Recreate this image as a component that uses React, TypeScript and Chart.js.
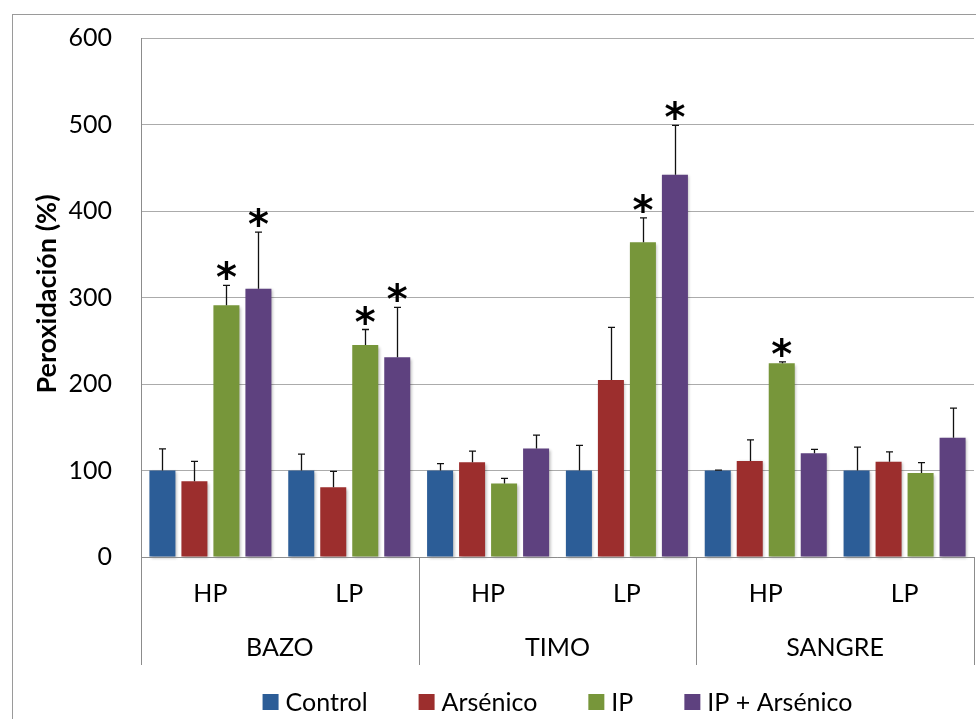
import React, { useEffect, useRef } from "react";
import { Chart, registerables } from "chart.js";

Chart.register(...registerables);

const groups = ["HP", "LP", "HP", "LP", "HP", "LP"];
const tissues = ["BAZO", "TIMO", "SANGRE"];
const seriesNames = ["Control", "Arsénico", "IP", "IP + Arsénico"];
const seriesColors = ["#2C5D97", "#9C2E2D", "#77963A", "#5E417F"];

const controlVals = [100, 100, 100, 100, 100, 100];
const arsenicoVals = [87.5, 80.5, 109.5, 204.5, 111, 110];
const ipVals = [291, 245, 85, 364, 224, 97];
const ipArsVals = [310, 231, 125.5, 442, 120, 138];

const controlErr = [25, 19, 8, 29, 0.5, 27];
const arsenicoErr = [23, 18.5, 13, 61, 24.5, 11.5];
const ipErr = [23, 18, 6, 28, 1.5, 12];
const ipArsErr = [65.5, 57.5, 15.5, 57, 4.5, 34];

const controlSig = [false, false, false, false, false, false];
const arsenicoSig = [false, false, false, false, false, false];
const ipSig = [true, true, false, true, true, false];
const ipArsSig = [true, true, false, true, false, false];

const yTicks = [0, 100, 200, 300, 400, 500, 600];
const yTitle = "Peroxidación (%)";

const FONT = "Lato, 'Open Sans', sans-serif";

export default function App() {
  const ref = useRef<HTMLCanvasElement | null>(null);

  useEffect(() => {
    if (!ref.current) return;
    const values = [controlVals, arsenicoVals, ipVals, ipArsVals];
    const errs = [controlErr, arsenicoErr, ipErr, ipArsErr];
    const sigs = [controlSig, arsenicoSig, ipSig, ipArsSig];

    const deco = {
      id: "deco",
      beforeDraw(chart: any) {
        const ctx = chart.ctx;
        ctx.save();
        ctx.fillStyle = "#ffffff";
        ctx.fillRect(0, 0, chart.width, chart.height);
        ctx.strokeStyle = "#9a9a9a";
        ctx.lineWidth = 1;
        ctx.strokeRect(12.5, 14.5, 2000, 2000);
        ctx.restore();
      },
      beforeDatasetsDraw(chart: any) {
        const ctx = chart.ctx;
        ctx.save();
        ctx.shadowColor = "rgba(0,0,0,0.28)";
        ctx.shadowBlur = 3;
        ctx.shadowOffsetX = 1.5;
        ctx.shadowOffsetY = 1.5;
      },
      afterDatasetsDraw(chart: any) {
        const ctx = chart.ctx;
        ctx.restore();
        const y = chart.scales.y;
        ctx.save();
        ctx.strokeStyle = "#111111";
        ctx.lineWidth = 1.3;
        for (let d = 0; d < values.length; d++) {
          const meta = chart.getDatasetMeta(d);
          meta.data.forEach((bar: any, i: number) => {
            const v = values[d][i];
            const e = errs[d][i];
            const x = Math.round(bar.x) + 0.5;
            const y0 = y.getPixelForValue(v);
            const y1 = y.getPixelForValue(v + e);
            ctx.beginPath();
            ctx.moveTo(x, y0);
            ctx.lineTo(x, y1);
            ctx.moveTo(x - 3.5, y1);
            ctx.lineTo(x + 3.5, y1);
            ctx.stroke();
            if (sigs[d][i]) {
              ctx.fillStyle = "#000";
              ctx.font = "bold 40px 'DejaVu Sans', sans-serif";
              ctx.textAlign = "center";
              ctx.textBaseline = "alphabetic";
              const m = ctx.measureText("*");
              const cy = y1 - 15;
              const asc = m.actualBoundingBoxAscent;
              const desc = m.actualBoundingBoxDescent;
              const base = cy + (asc - desc) / 2;
              ctx.fillText("*", bar.x, base);
            }
          });
        }
        ctx.restore();
      },
      afterDraw(chart: any) {
        const ctx = chart.ctx;
        const a = chart.chartArea;
        const xs = chart.scales.x;
        ctx.save();
        ctx.strokeStyle = "#8c8c8c";
        ctx.lineWidth = 1;
        ctx.beginPath();
        ctx.moveTo(a.left, Math.round(a.bottom) + 0.5);
        ctx.lineTo(a.right, Math.round(a.bottom) + 0.5);
        const n = groups.length;
        const cw = (a.right - a.left) / n;
        for (let k = 0; k <= tissues.length; k++) {
          const xx = Math.round(a.left + k * 2 * cw) + 0.5;
          ctx.moveTo(xx, a.bottom);
          ctx.lineTo(xx, 665);
        }
        ctx.stroke();
        ctx.fillStyle = "#000";
        ctx.font = `25px ${FONT}`;
        ctx.textAlign = "center";
        ctx.textBaseline = "middle";
        groups.forEach((g, i) => {
          ctx.fillText(g, xs.getPixelForValue(i), 594);
        });
        tissues.forEach((t, k) => {
          ctx.fillText(t, a.left + (k * 2 + 1) * cw, 648);
        });
        ctx.save();
        ctx.translate(47, 294);
        ctx.rotate(-Math.PI / 2);
        ctx.font = `bold 27px ${FONT}`;
        ctx.fillText(yTitle, 0, 0);
        ctx.restore();
        ctx.font = `25px ${FONT}`;
        ctx.textAlign = "left";
        const box = 16;
        const gapText = 7;
        const gapItem = 51;
        const widths = seriesNames.map((s) => ctx.measureText(s).width);
        let total = 0;
        widths.forEach((w, i) => {
          total += box + gapText + w + (i < widths.length - 1 ? gapItem : 0);
        });
        let x = (a.left + a.right) / 2 - total / 2;
        const ly = 702;
        seriesNames.forEach((s, i) => {
          ctx.fillStyle = seriesColors[i];
          ctx.fillRect(x, ly - 8, box, box);
          ctx.fillStyle = "#000";
          ctx.fillText(s, x + box + gapText, ly + 1);
          x += box + gapText + widths[i] + gapItem;
        });
        ctx.restore();
      },
    };

    const chart = new Chart(ref.current, {
      type: "bar",
      data: {
        labels: groups.map((g, i) => `${tissues[Math.floor(i / 2)]} ${g}`),
        datasets: seriesNames.map((name, d) => ({
          label: name,
          data: values[d],
          backgroundColor: seriesColors[d],
          borderWidth: 0,
          categoryPercentage: 0.922,
          barPercentage: 0.8125,
          clip: false as any,
        })),
      },
      options: {
        responsive: false,
        animation: false,
        layout: { padding: { left: 0, right: 2, top: 38, bottom: 162 } },
        plugins: {
          legend: { display: false },
          tooltip: { enabled: false },
        },
        scales: {
          x: {
            display: false,
            grid: { display: false },
          },
          y: {
            min: 0,
            max: 600,
            afterFit: (scale: any) => {
              scale.width = 141;
              scale.paddingTop = 0;
              scale.paddingBottom = 0;
            },
            afterBuildTicks: (scale: any) => {
              scale.ticks = yTicks.map((v) => ({ value: v }));
            },
            grid: {
              color: "#ababab",
              lineWidth: 1,
              drawTicks: false,
            },
            border: { display: true, color: "#8c8c8c", width: 1 },
            ticks: {
              padding: 29,
              color: "#000",
              font: { family: FONT, size: 25 },
            },
          },
        },
      },
      plugins: [deco],
    });
    return () => chart.destroy();
  }, []);

  return (
    <div style={{ position: "absolute", left: 0, top: 0, width: 976, height: 719 }}>
      <canvas ref={ref} width={976} height={719} style={{ width: 976, height: 719 }} />
    </div>
  );
}
